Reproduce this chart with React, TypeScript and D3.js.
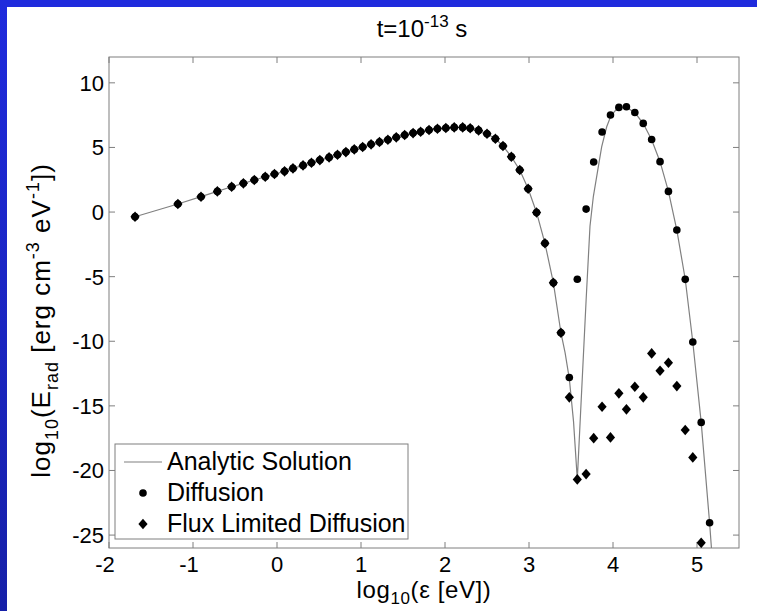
import React from "react";
import * as d3 from "d3";

// ---------- data (log10 energy vs log10 E_rad) ----------
const fldX = [-1.69, -1.18, -0.905, -0.71, -0.54, -0.40, -0.27, -0.14, -0.03, 0.09, 0.19, 0.31, 0.41, 0.51, 0.62, 0.72, 0.82, 0.92, 1.02, 1.12, 1.22, 1.32, 1.42, 1.52, 1.62, 1.71, 1.81, 1.91, 2.01, 2.11, 2.21, 2.30, 2.40, 2.50, 2.60, 2.69, 2.79, 2.89, 2.99, 3.09, 3.19, 3.29, 3.38, 3.48, 3.575, 3.68, 3.77, 3.87, 3.97, 4.07, 4.16, 4.26, 4.36, 4.46, 4.56, 4.66, 4.76, 4.86, 4.95, 5.05];
const fldY = [-0.36, 0.62, 1.19, 1.6, 1.96, 2.22, 2.48, 2.73, 2.94, 3.15, 3.38, 3.61, 3.82, 4.02, 4.23, 4.44, 4.64, 4.85, 5.03, 5.24, 5.42, 5.60, 5.78, 5.96, 6.11, 6.22, 6.35, 6.45, 6.5, 6.55, 6.55, 6.48, 6.32, 6.06, 5.67, 5.11, 4.28, 3.25, 1.80, -0.03, -2.42, -5.47, -9.34, -14.34, -20.69, -20.28, -17.5, -15.07, -17.44, -14.03, -15.27, -13.52, -14.34, -10.94, -12.28, -11.66, -13.47, -16.87, -18.99, -25.6];

const difX = [-1.69, -1.18, -0.905, -0.71, -0.54, -0.40, -0.27, -0.14, -0.03, 0.09, 0.19, 0.31, 0.41, 0.51, 0.62, 0.72, 0.82, 0.92, 1.02, 1.12, 1.22, 1.32, 1.42, 1.52, 1.62, 1.71, 1.81, 1.91, 2.01, 2.11, 2.21, 2.30, 2.40, 2.50, 2.60, 2.69, 2.79, 2.89, 2.99, 3.09, 3.19, 3.29, 3.38, 3.48, 3.575, 3.68, 3.77, 3.87, 3.97, 4.07, 4.16, 4.26, 4.36, 4.46, 4.56, 4.66, 4.76, 4.86, 4.95, 5.05, 5.15];
const difY = [-0.36, 0.62, 1.19, 1.6, 1.96, 2.22, 2.48, 2.73, 2.94, 3.15, 3.38, 3.61, 3.82, 4.02, 4.23, 4.44, 4.64, 4.85, 5.03, 5.24, 5.42, 5.60, 5.78, 5.96, 6.11, 6.22, 6.35, 6.45, 6.5, 6.55, 6.55, 6.48, 6.32, 6.06, 5.67, 5.11, 4.28, 3.25, 1.80, -0.03, -2.42, -5.47, -9.34, -12.8, -5.2, 0.23, 3.87, 6.19, 7.51, 8.10, 8.15, 7.71, 6.86, 5.62, 3.9, 1.6, -1.39, -5.21, -10.06, -16.28, -24.05];

const anaX = [-1.69, -1.18, -0.905, -0.71, -0.54, -0.40, -0.27, -0.14, -0.03, 0.09, 0.19, 0.31, 0.41, 0.51, 0.62, 0.72, 0.82, 0.92, 1.02, 1.12, 1.22, 1.32, 1.42, 1.52, 1.62, 1.71, 1.81, 1.91, 2.01, 2.11, 2.21, 2.30, 2.40, 2.50, 2.60, 2.69, 2.79, 2.89, 2.99, 3.09, 3.19, 3.29, 3.38, 3.43, 3.48, 3.53, 3.575, 3.68, 3.726, 3.766, 3.825, 3.865, 3.925, 3.964, 4.02, 4.07, 4.12, 4.16, 4.26, 4.36, 4.46, 4.56, 4.66, 4.76, 4.86, 4.95, 5.05, 5.15, 5.25];
const anaY = [-0.36, 0.62, 1.19, 1.6, 1.96, 2.22, 2.48, 2.73, 2.94, 3.15, 3.38, 3.61, 3.82, 4.02, 4.23, 4.44, 4.64, 4.85, 5.03, 5.24, 5.42, 5.60, 5.78, 5.96, 6.11, 6.22, 6.35, 6.45, 6.5, 6.55, 6.55, 6.48, 6.32, 6.06, 5.67, 5.11, 4.28, 3.25, 1.80, -0.03, -2.42, -5.47, -9.34, -10.9, -12.9, -16.2, -20.7, -6.8, -1.1, 1.2, 3.5, 5.05, 6.6, 7.25, 7.8, 8.05, 8.13, 8.1, 7.7, 6.85, 5.6, 3.9, 1.6, -1.4, -5.2, -10.06, -16.28, -24.05, -33];

const xTicks = [-2, -1, 0, 1, 2, 3, 4, 5];
const yTicks = [-25, -20, -15, -10, -5, 0, 5, 10];
const legendLabels = ["Analytic Solution", "Diffusion", "Flux Limited Diffusion"];

// ---------- layout ----------
const W = 757, H = 611;
const L = 109, R = 739, T = 57, B = 548;
const FONT = "'Liberation Sans', Arial, Helvetica, sans-serif";
const AXIS = "#7f7f7f";

const x = d3.scaleLinear().domain([-2, 5.5]).range([L, R]);
const y = d3.scaleLinear().domain([-26, 12]).range([B, T]);

const diamond = "M0,-5.3L4.6,0L0,5.3L-4.6,0Z";

export default function App() {
  const line = d3.line<number>().x((_, i) => x(anaX[i])).y((_, i) => y(anaY[i]));
  const anaPath = line(anaX.map((v) => v)) || "";
  const tickLen = 6;
  return (
    <svg width={W} height={H} style={{ position: "absolute", left: 0, top: 0, background: "#fff" }} fontFamily={FONT}>
      <defs>
        <linearGradient id="side" x1="0" y1="0" x2="0" y2="1">
          <stop offset="0" stopColor="#1f2bdd" />
          <stop offset="1" stopColor="#1620a8" />
        </linearGradient>
        <clipPath id="plotClip">
          <rect x={L} y={T} width={R - L} height={B - T} />
        </clipPath>
      </defs>
      <rect x={0} y={0} width={W} height={H} fill="#fff" />
      <rect x={0} y={0} width={W} height={7} fill="#1f2bdd" />
      <rect x={0} y={0} width={7} height={H} fill="url(#side)" />

      {/* title */}
      <text x={(L + R) / 2 - 2} y={37} textAnchor="middle" fontSize={24} fill="#000">
        t=10<tspan dy={-10} fontSize={17}>-13</tspan><tspan dy={10}> s</tspan>
      </text>

      {/* axes box */}
      <rect x={L} y={T} width={R - L} height={B - T} fill="none" stroke={AXIS} strokeWidth={1} />
      {xTicks.map((t) => (
        <g key={"xt" + t}>
          <line x1={x(t)} x2={x(t)} y1={B} y2={B - tickLen} stroke={AXIS} />
          <line x1={x(t)} x2={x(t)} y1={T} y2={T + tickLen} stroke={AXIS} />
          <text x={x(t)} dx={t < 0 ? -4 : 0} y={572} textAnchor="middle" fontSize={22} fill="#000">{t}</text>
        </g>
      ))}
      {yTicks.map((t) => (
        <g key={"yt" + t}>
          <line x1={L} x2={L + tickLen} y1={y(t)} y2={y(t)} stroke={AXIS} />
          <line x1={R} x2={R - tickLen} y1={y(t)} y2={y(t)} stroke={AXIS} />
          <text x={104} y={y(t)} dy="0.36em" textAnchor="end" fontSize={22} fill="#000">{t}</text>
        </g>
      ))}

      {/* data */}
      <g clipPath="url(#plotClip)">
        <path d={anaPath} fill="none" stroke="#808080" strokeWidth={1.2} />
        {difX.map((v, i) => (
          <circle key={"d" + i} cx={x(v)} cy={y(difY[i])} r={3.8} fill="#000" />
        ))}
        {fldX.map((v, i) => (
          <path key={"f" + i} d={diamond} transform={`translate(${x(v)},${y(fldY[i])})`} fill="#000" />
        ))}
      </g>

      {/* legend */}
      <rect x={115} y={444} width={293} height={95} fill="#fff" stroke={AXIS} />
      <line x1={124} x2={162} y1={462} y2={462} stroke="#808080" strokeWidth={1.2} />
      <circle cx={143} cy={493} r={3.8} fill="#000" />
      <path d={diamond} transform="translate(143,524)" fill="#000" />
      {legendLabels.map((lab, i) => (
        <text key={lab} x={167} y={470 + i * 31} fontSize={25} fill="#000">{lab}</text>
      ))}

      {/* axis labels */}
      <text x={(L + R) / 2} y={598} textAnchor="middle" fontSize={24} letterSpacing={0.6} fill="#000">
        log<tspan dy={6} fontSize={17}>10</tspan><tspan dy={-6}>(ε [eV])</tspan>
      </text>
      <text transform={`translate(50,${(T + B) / 2 + 18}) rotate(-90)`} textAnchor="middle" fontSize={26} letterSpacing={1} fill="#000">
        log<tspan dy={8} fontSize={18}>10</tspan><tspan dy={-8}>(E</tspan><tspan dy={8} fontSize={18}>rad</tspan><tspan dy={-8}> [erg cm</tspan><tspan dy={-11} fontSize={18}>-3</tspan><tspan dy={11}> eV</tspan><tspan dy={-11} fontSize={18}>-1</tspan><tspan dy={11}>])</tspan>
      </text>
    </svg>
  );
}
